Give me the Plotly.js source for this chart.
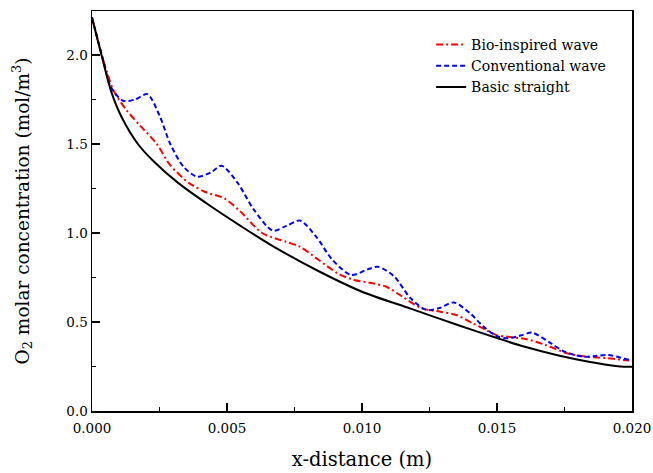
<!DOCTYPE html>
<html>
<head>
<meta charset="utf-8">
<script src="https://cdn.plot.ly/plotly-3.0.1.min.js"></script>
<style>html,body{margin:0;padding:0;background:#fff;}#chart{width:653px;height:473px;}</style>
</head>
<body>
<div id="chart"></div>
<script>
// Bio-inspired wave (red dash-dot)
const bioX = [0, 0.0004, 0.0008, 0.00128, 0.0018, 0.0024, 0.0029, 0.0036, 0.0042, 0.0049, 0.0055, 0.0063, 0.0072, 0.0077, 0.0084, 0.0091, 0.0097, 0.0103, 0.0109, 0.0115, 0.0122, 0.0129, 0.0135, 0.0141, 0.0146, 0.0150, 0.0154, 0.0161, 0.0168, 0.0176, 0.0183, 0.0191, 0.0199];
const bioY = [2.21, 1.98, 1.80, 1.69, 1.60, 1.50, 1.38, 1.28, 1.23, 1.195, 1.12, 1.00, 0.95, 0.923, 0.848, 0.773, 0.736, 0.72, 0.698, 0.642, 0.577, 0.558, 0.539, 0.493, 0.455, 0.425, 0.417, 0.403, 0.371, 0.324, 0.305, 0.296, 0.283];
// Conventional wave (blue dashed)
const convX = [0, 0.0004, 0.0007, 0.00115, 0.0016, 0.00205, 0.0025, 0.0029, 0.0034, 0.0039, 0.0044, 0.0048, 0.0054, 0.0060, 0.0067, 0.0072, 0.0077, 0.0083, 0.0089, 0.0096, 0.0102, 0.0106, 0.0112, 0.0118, 0.0124, 0.0129, 0.0134, 0.0140, 0.0145, 0.0150, 0.0154, 0.0159, 0.0163, 0.0170, 0.0175, 0.0182, 0.0187, 0.0191, 0.0199];
const convY = [2.21, 1.98, 1.82, 1.743, 1.75, 1.78, 1.66, 1.50, 1.37, 1.316, 1.34, 1.378, 1.28, 1.13, 1.013, 1.04, 1.07, 0.98, 0.85, 0.764, 0.795, 0.81, 0.755, 0.633, 0.567, 0.58, 0.61, 0.549, 0.474, 0.42, 0.408, 0.425, 0.44, 0.38, 0.333, 0.305, 0.31, 0.315, 0.287];
// Basic straight (black solid)
const baseX = [0, 0.0004, 0.0007, 0.0011, 0.0017, 0.0023, 0.0032, 0.0044, 0.0055, 0.0066, 0.0084, 0.0100, 0.0118, 0.0136, 0.0150, 0.0160, 0.0172, 0.0184, 0.0194, 0.0197, 0.0200];
const baseY = [2.21, 1.97, 1.80, 1.65, 1.50, 1.40, 1.28, 1.15, 1.04, 0.935, 0.785, 0.67, 0.575, 0.48, 0.41, 0.362, 0.315, 0.277, 0.253, 0.249, 0.249];

const seriesNames = ['Bio-inspired wave', 'Conventional wave', 'Basic straight'];
const xTickVals = [0, 0.005, 0.010, 0.015, 0.020];
const xTickText = ['0.000', '0.005', '0.010', '0.015', '0.020'];
const yTickVals = [0, 0.5, 1.0, 1.5, 2.0];
const yTickText = ['0.0', '0.5', '1.0', '1.5', '2.0'];

const font = 'DejaVu Serif';

const traces = [
  {x: bioX, y: bioY, name: seriesNames[0], mode: 'lines', type: 'scatter',
   line: {color: '#ff0000', width: 2, dash: '7px,3px,2px,3px', shape: 'spline', smoothing: 0.8}},
  {x: convX, y: convY, name: seriesNames[1], mode: 'lines', type: 'scatter',
   line: {color: '#0000ff', width: 2, dash: '5px,3px', shape: 'spline', smoothing: 0.8}},
  {x: baseX, y: baseY, name: seriesNames[2], mode: 'lines', type: 'scatter',
   line: {color: '#000000', width: 2, shape: 'spline', smoothing: 0.8}}
];

const axisCommon = {
  showline: true, linecolor: '#000', linewidth: 1.5, mirror: true,
  ticks: 'inside', ticklen: 8, tickwidth: 1.5, tickcolor: '#000',
  showgrid: false, zeroline: false,
  tickfont: {family: font, size: 13.5, color: '#000'}
};

const layout = {
  width: 653, height: 473,
  margin: {l: 92, r: 21, t: 11, b: 62},
  paper_bgcolor: '#ffffff', plot_bgcolor: '#ffffff',
  font: {family: font, color: '#000'},
  showlegend: true,
  legend: {x: 0.628, y: 0.955, xanchor: 'left', yanchor: 'top',
           bgcolor: 'rgba(0,0,0,0)', borderwidth: 0,
           font: {family: font, size: 14, color: '#000'}, tracegroupgap: 0},
  xaxis: Object.assign({}, axisCommon, {
    range: [0, 0.020], tickvals: xTickVals, ticktext: xTickText,
    ticklabelstandoff: 4,
    minor: {tickvals: [0.0025, 0.0075, 0.0125, 0.0175], ticks: 'inside', ticklen: 4, tickwidth: 1.5, tickcolor: '#000'},
    title: {text: 'x-distance (m)', font: {family: font, size: 19.5, color: '#000'}, standoff: 17}
  }),
  yaxis: Object.assign({}, axisCommon, {
    range: [0, 2.247], tickvals: yTickVals, ticktext: yTickText,
    minor: {tickvals: [0.25, 0.75, 1.25, 1.75], ticks: 'inside', ticklen: 4, tickwidth: 1.5, tickcolor: '#000'},
    title: {text: 'O<sub>2</sub> molar concentration (mol/m<sup>3</sup>)', font: {family: font, size: 18.5, color: '#000'}, standoff: 32}
  })
};

Plotly.newPlot('chart', traces, layout, {displayModeBar: false, staticPlot: true});
</script>
</body>
</html>
